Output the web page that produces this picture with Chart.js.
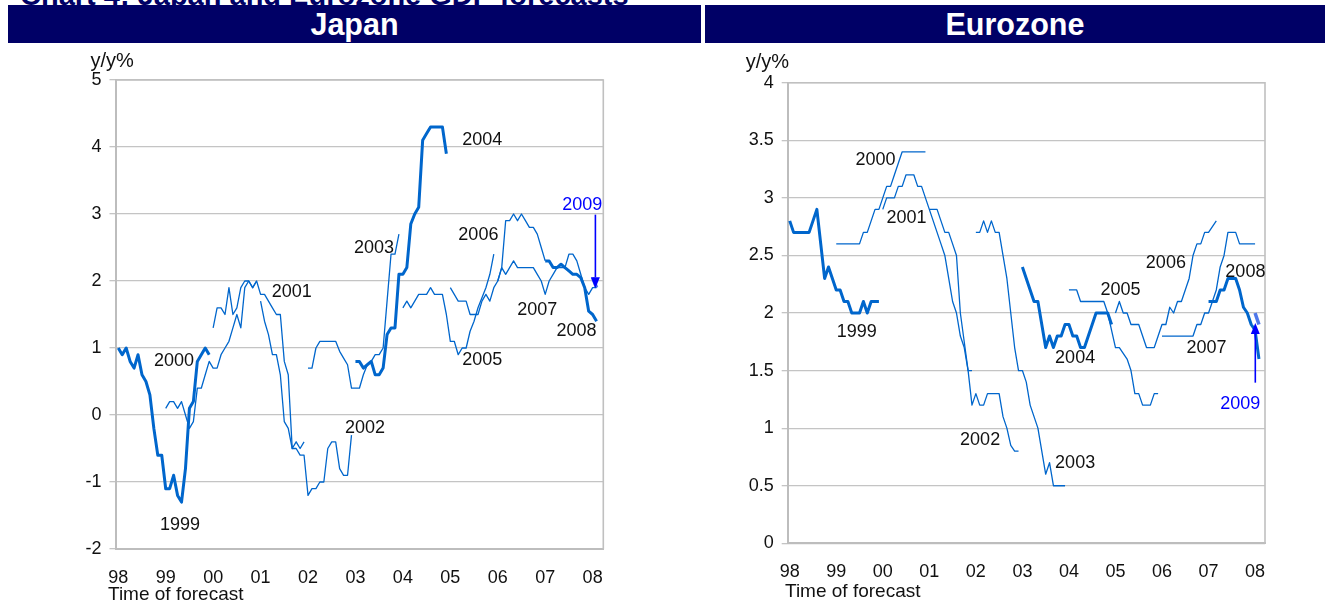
<!DOCTYPE html>
<html>
<head>
<meta charset="utf-8">
<script src="https://cdn.jsdelivr.net/npm/chart.js@4.4.1/dist/chart.umd.min.js"></script>
<style>
  html, body { margin: 0; padding: 0; background: #fff; width: 1329px; height: 601px; overflow: hidden; }
  body { position: relative; font-family: "Liberation Sans", Arial, sans-serif; }
  #caption { position: absolute; left: 20px; top: -19px; font: bold 29px/29px "Liberation Sans", Arial, sans-serif; color: #000066; white-space: nowrap; }
  .bar { position: absolute; top: 5px; height: 38px; background: #000066; color: #fff; text-align: center;
         font: bold 30.5px/38px "Liberation Sans", Arial, sans-serif; }
  canvas { position: absolute; top: 50px; }
</style>
</head>
<body>
<div id="caption">Chart 4: Japan and Eurozone GDP forecasts</div>
<div class="bar" style="left:8px;width:693px">Japan</div>
<div class="bar" style="left:705px;width:620px">Eurozone</div>
<canvas id="jp" width="705" height="551" style="left:0"></canvas>
<canvas id="eu" width="624" height="551" style="left:705px"></canvas>
<script>
// Time axis: months counted from January 1998, one labelled tick per year
const yearTicks = ['98', '99', '00', '01', '02', '03', '04', '05', '06', '07', '08'];

// Target year of each forecast series
const targetYears = ['1999', '2000', '2001', '2002', '2003', '2004', '2005', '2006', '2007', '2008', '2009'];
// Month of the first forecast for each target year (months since Jan 1998)
const firstMonth = [0, 12, 24, 36, 48, 60, 72, 84, 96, 108, 120];
const heavyYears = ['1999', '2004', '2008'];

// Japan: real GDP growth forecasts, y/y %, one value per month
const JP_1999 = [1.0, 0.9, 1.0, 0.8, 0.7, 0.9, 0.6, 0.5, 0.3, -0.2, -0.6, -0.6, -1.1, -1.1, -0.9, -1.2, -1.3, -0.8, 0.1, 0.2, 0.8, 0.9, 1.0, 0.9];
const JP_2000 = [0.1, 0.2, 0.2, 0.1, 0.2, 0.0, -0.2, -0.1, 0.4, 0.4, 0.6, 0.8, 0.7, 0.7, 0.9, 1.0, 1.1, 1.3, 1.5, 1.3, 1.9, 2.0, 1.9, 2.0];
const JP_2001 = [1.3, 1.6, 1.6, 1.5, 1.9, 1.5, 1.6, 1.9, 2.0, 2.0, 1.9, 2.0, 1.8, 1.8, 1.7, 1.6, 1.5, 1.5, 0.8, 0.6, -0.5, -0.4, -0.5, -0.4];
const JP_2002 = [1.7, 1.4, 1.2, 0.9, 0.9, 0.6, -0.1, -0.2, -0.5, -0.5, -0.6, -0.6, -1.2, -1.1, -1.1, -1.0, -1.0, -0.5, -0.4, -0.4, -0.8, -0.9, -0.9, -0.3];
const JP_2003 = [0.7, 0.7, 1.0, 1.1, 1.1, 1.1, 1.1, 1.1, 0.95, 0.85, 0.75, 0.4, 0.4, 0.4, 0.6, 0.75, 0.8, 0.9, 0.9, 1.0, 1.7, 2.4, 2.4, 2.7];
const JP_2004 = [0.8, 0.8, 0.7, 0.75, 0.8, 0.6, 0.6, 0.7, 1.2, 1.3, 1.3, 2.1, 2.1, 2.2, 2.85, 3.0, 3.1, 4.1, 4.2, 4.3, 4.3, 4.3, 4.3, 3.9];
const JP_2005 = [1.6, 1.7, 1.6, 1.7, 1.8, 1.8, 1.8, 1.9, 1.8, 1.8, 1.8, 1.5, 1.1, 1.1, 0.9, 1.0, 1.0, 1.25, 1.4, 1.6, 1.75, 1.9, 2.1, 2.4];
const JP_2006 = [1.9, 1.8, 1.7, 1.7, 1.7, 1.5, 1.5, 1.5, 1.7, 1.8, 1.7, 1.9, 2.0, 2.2, 2.9, 2.9, 3.0, 2.9, 3.0, 2.9, 2.8, 2.8, 2.7, 2.5, 2.3];
const JP_2007 = [2.0, 2.2, 2.1, 2.2, 2.3, 2.2, 2.2, 2.2, 2.2, 2.2, 2.1, 2.0, 1.8, 2.0, 2.1, 2.2, 2.2, 2.2, 2.4, 2.4, 2.3, 2.1, 1.9, 1.8, 1.9, 1.9];
const JP_2008 = [2.3, 2.3, 2.2, 2.2, 2.25, 2.2, 2.15, 2.1, 2.1, 2.05, 1.9, 1.55, 1.5, 1.4];
const JP_2009 = [2.05, 1.9];

// Eurozone: real GDP growth forecasts, y/y %, one value per month
const EU_1999 = [2.8, 2.7, 2.7, 2.7, 2.7, 2.7, 2.8, 2.9, 2.6, 2.3, 2.4, 2.3, 2.2, 2.2, 2.1, 2.1, 2.0, 2.0, 2.0, 2.1, 2.0, 2.1, 2.1, 2.1];
const EU_2000 = [2.6, 2.6, 2.6, 2.6, 2.6, 2.6, 2.6, 2.7, 2.7, 2.8, 2.9, 2.9, 3.0, 3.1, 3.1, 3.2, 3.3, 3.4, 3.4, 3.4, 3.4, 3.4, 3.4, 3.4];
const EU_2001 = [2.9, 3.0, 3.0, 3.0, 3.1, 3.1, 3.2, 3.2, 3.2, 3.1, 3.1, 3.0, 2.9, 2.8, 2.7, 2.6, 2.5, 2.3, 2.1, 2.0, 1.8, 1.7, 1.5, 1.5];
const EU_2002 = [2.9, 2.9, 2.9, 2.8, 2.7, 2.7, 2.6, 2.5, 2.0, 1.75, 1.5, 1.2, 1.3, 1.2, 1.2, 1.3, 1.3, 1.3, 1.3, 1.1, 1.0, 0.85, 0.8, 0.8];
const EU_2003 = [2.7, 2.7, 2.8, 2.7, 2.8, 2.7, 2.7, 2.5, 2.3, 2.0, 1.7, 1.5, 1.5, 1.4, 1.2, 1.1, 1.0, 0.8, 0.6, 0.7, 0.5, 0.5, 0.5, 0.5];
const EU_2004 = [2.4, 2.3, 2.2, 2.1, 2.1, 1.9, 1.7, 1.8, 1.7, 1.8, 1.8, 1.9, 1.9, 1.8, 1.8, 1.7, 1.7, 1.8, 1.9, 2.0, 2.0, 2.0, 2.0, 1.9];
const EU_2005 = [2.2, 2.2, 2.2, 2.1, 2.1, 2.1, 2.1, 2.1, 2.1, 2.1, 2.0, 1.85, 1.7, 1.7, 1.65, 1.6, 1.5, 1.3, 1.3, 1.2, 1.2, 1.2, 1.3, 1.3];
const EU_2006 = [2.0, 2.1, 2.0, 2.0, 1.9, 1.9, 1.9, 1.8, 1.7, 1.7, 1.7, 1.8, 1.9, 1.9, 2.05, 2.0, 2.1, 2.1, 2.2, 2.3, 2.5, 2.6, 2.6, 2.7, 2.7, 2.75, 2.8];
const EU_2007 = [1.8, 1.8, 1.8, 1.8, 1.8, 1.8, 1.8, 1.8, 1.8, 1.9, 1.9, 2.0, 2.0, 2.1, 2.2, 2.4, 2.5, 2.7, 2.7, 2.7, 2.6, 2.6, 2.6, 2.6, 2.6];
const EU_2008 = [2.1, 2.1, 2.1, 2.2, 2.2, 2.3, 2.3, 2.3, 2.2, 2.05, 2.0, 1.9, 1.85, 1.6];
const EU_2009 = [2.0, 1.9];

const jpValues = [JP_1999, JP_2000, JP_2001, JP_2002, JP_2003, JP_2004, JP_2005, JP_2006, JP_2007, JP_2008, JP_2009];
const euValues = [EU_1999, EU_2000, EU_2001, EU_2002, EU_2003, EU_2004, EU_2005, EU_2006, EU_2007, EU_2008, EU_2009];

const LINE_BLUE = '#0066cc';
const LATEST_BLUE = '#4f78ea';
const NOTE_BLUE = '#0000ff';
const GRID = '#c4c4c4';
const FONT = '"Liberation Sans", Arial, sans-serif';

function buildDatasets(valueLists) {
  return valueLists.map((vals, i) => {
    const year = targetYears[i];
    const latest = i === targetYears.length - 1;
    const heavy = heavyYears.includes(year);
    return {
      label: year,
      data: vals.map((v, k) => ({ x: firstMonth[i] + k, y: v })),
      borderColor: latest ? LATEST_BLUE : LINE_BLUE,
      borderWidth: latest ? 3.5 : (heavy ? 3 : 1.3),
      pointRadius: 0,
      tension: 0,
      fill: false,
      borderJoinStyle: 'round'
    };
  });
}

// Frame, year tags, unit/axis captions and the arrow that points at the newest forecast
const decor = {
  id: 'decor',
  beforeDatasetsDraw(chart) {
    const { ctx, chartArea: a } = chart;
    ctx.save();
    ctx.strokeStyle = '#c0c0c0';
    ctx.lineWidth = 1.6;
    ctx.beginPath();
    ctx.moveTo(a.left, a.top);
    ctx.lineTo(a.right, a.top);
    ctx.lineTo(a.right, a.bottom);
    ctx.stroke();
    ctx.restore();
  },
  afterDraw(chart, args, o) {
    const { ctx, chartArea: a, scales: { x, y } } = chart;
    ctx.save();
    ctx.textBaseline = 'alphabetic';
    // unit and axis captions
    ctx.fillStyle = '#111';
    ctx.textAlign = 'left';
    ctx.font = '20px ' + FONT;
    ctx.fillText(o.unit.text, a.left + o.unit.dx, a.top + o.unit.dy);
    ctx.font = '19px ' + FONT;
    ctx.fillText(o.axisName.text, a.left + o.axisName.dx, a.bottom + o.axisName.dy);
    // year tags placed next to their series
    ctx.font = '18px ' + FONT;
    ctx.textAlign = 'center';
    o.tags.forEach(t => {
      ctx.fillStyle = t.color || '#111';
      ctx.fillText(t.text, x.getPixelForValue(t.m), y.getPixelForValue(t.v) + 6.5);
    });
    // arrow towards the newest series
    const ar = o.arrow;
    const ax = x.getPixelForValue(ar.m);
    const y0 = y.getPixelForValue(ar.from);
    const y1 = y.getPixelForValue(ar.to);
    const dir = y1 > y0 ? 1 : -1;
    const headLen = 11, headHalf = 4.5;
    ctx.strokeStyle = NOTE_BLUE;
    ctx.fillStyle = NOTE_BLUE;
    ctx.lineWidth = 1.6;
    ctx.beginPath();
    ctx.moveTo(ax, y0);
    ctx.lineTo(ax, y1 - dir * headLen);
    ctx.stroke();
    ctx.beginPath();
    ctx.moveTo(ax, y1);
    ctx.lineTo(ax - headHalf, y1 - dir * headLen);
    ctx.lineTo(ax + headHalf, y1 - dir * headLen);
    ctx.closePath();
    ctx.fill();
    ctx.restore();
  }
};

function makeChart(id, valueLists, cfg) {
  return new Chart(document.getElementById(id), {
    type: 'line',
    data: { datasets: buildDatasets(valueLists) },
    plugins: [decor],
    options: {
      responsive: false,
      animation: false,
      devicePixelRatio: 1,
      layout: { padding: { top: cfg.padTop, right: cfg.padRight, left: 0, bottom: 0 } },
      plugins: {
        legend: { display: false },
        tooltip: { enabled: false },
        decor: cfg.decor
      },
      scales: {
        x: {
          type: 'linear',
          min: cfg.xMin,
          max: cfg.xMax,
          afterBuildTicks: s => { s.ticks = yearTicks.map((_, i) => ({ value: i * 12 })); },
          afterFit: s => { s.height = cfg.xHeight; },
          ticks: {
            autoSkip: false, maxRotation: 0, padding: 18,
            color: '#111', font: { family: FONT, size: 18 },
            callback: (v, i) => yearTicks[i]
          },
          grid: { display: false, drawTicks: false },
          border: { display: true, color: '#bdbdbd', width: 2 }
        },
        y: {
          min: cfg.yMin,
          max: cfg.yMax,
          afterFit: s => { s.width = cfg.yWidth; },
          ticks: {
            stepSize: cfg.yStep, padding: 8,
            color: '#111', font: { family: FONT, size: 18 },
            callback: v => String(v)
          },
          grid: { color: GRID, lineWidth: 1.3, drawTicks: true, tickLength: 6 },
          border: { display: true, color: '#bdbdbd', width: 2 }
        }
      }
    }
  });
}

makeChart('jp', jpValues, {
  padTop: 30, padRight: 101.7, yWidth: 115.5, xHeight: 52,
  xMin: -0.7, xMax: 122.7, yMin: -2, yMax: 5, yStep: 1,
  decor: {
    unit: { text: 'y/y%', dx: -25, dy: -13 },
    axisName: { text: 'Time of forecast', dx: -7.5, dy: 51 },
    tags: [
      { text: '1999', m: 15.6, v: -1.62 },
      { text: '2000', m: 14.1, v: 0.83 },
      { text: '2001', m: 43.9, v: 1.86 },
      { text: '2002', m: 62.4, v: -0.17 },
      { text: '2003', m: 64.7, v: 2.52 },
      { text: '2004', m: 92.1, v: 4.12 },
      { text: '2005', m: 92.1, v: 0.85 },
      { text: '2006', m: 91.1, v: 2.71 },
      { text: '2007', m: 106, v: 1.59 },
      { text: '2008', m: 115.9, v: 1.27 },
      { text: '2009', m: 117.4, v: 3.15, color: NOTE_BLUE }
    ],
    arrow: { m: 120.7, from: 2.99, to: 1.89 }
  }
});

makeChart('eu', euValues, {
  padTop: 32.7, padRight: 64, yWidth: 82.7, xHeight: 57.7,
  xMin: -0.52, xMax: 122.56, yMin: 0, yMax: 4, yStep: 0.5,
  decor: {
    unit: { text: 'y/y%', dx: -42, dy: -14.7 },
    axisName: { text: 'Time of forecast', dx: -2.7, dy: 54 },
    tags: [
      { text: '1999', m: 17.3, v: 1.85 },
      { text: '2000', m: 22.1, v: 3.34 },
      { text: '2001', m: 30.1, v: 2.84 },
      { text: '2002', m: 49.1, v: 0.91 },
      { text: '2003', m: 73.6, v: 0.71 },
      { text: '2004', m: 73.6, v: 1.62 },
      { text: '2005', m: 85.3, v: 2.21 },
      { text: '2006', m: 97, v: 2.45 },
      { text: '2007', m: 107.5, v: 1.71 },
      { text: '2008', m: 117.5, v: 2.37 },
      { text: '2009', m: 116.2, v: 1.22, color: NOTE_BLUE }
    ],
    arrow: { m: 120.06, from: 1.395, to: 1.913 }
  }
});
</script>
</body>
</html>
